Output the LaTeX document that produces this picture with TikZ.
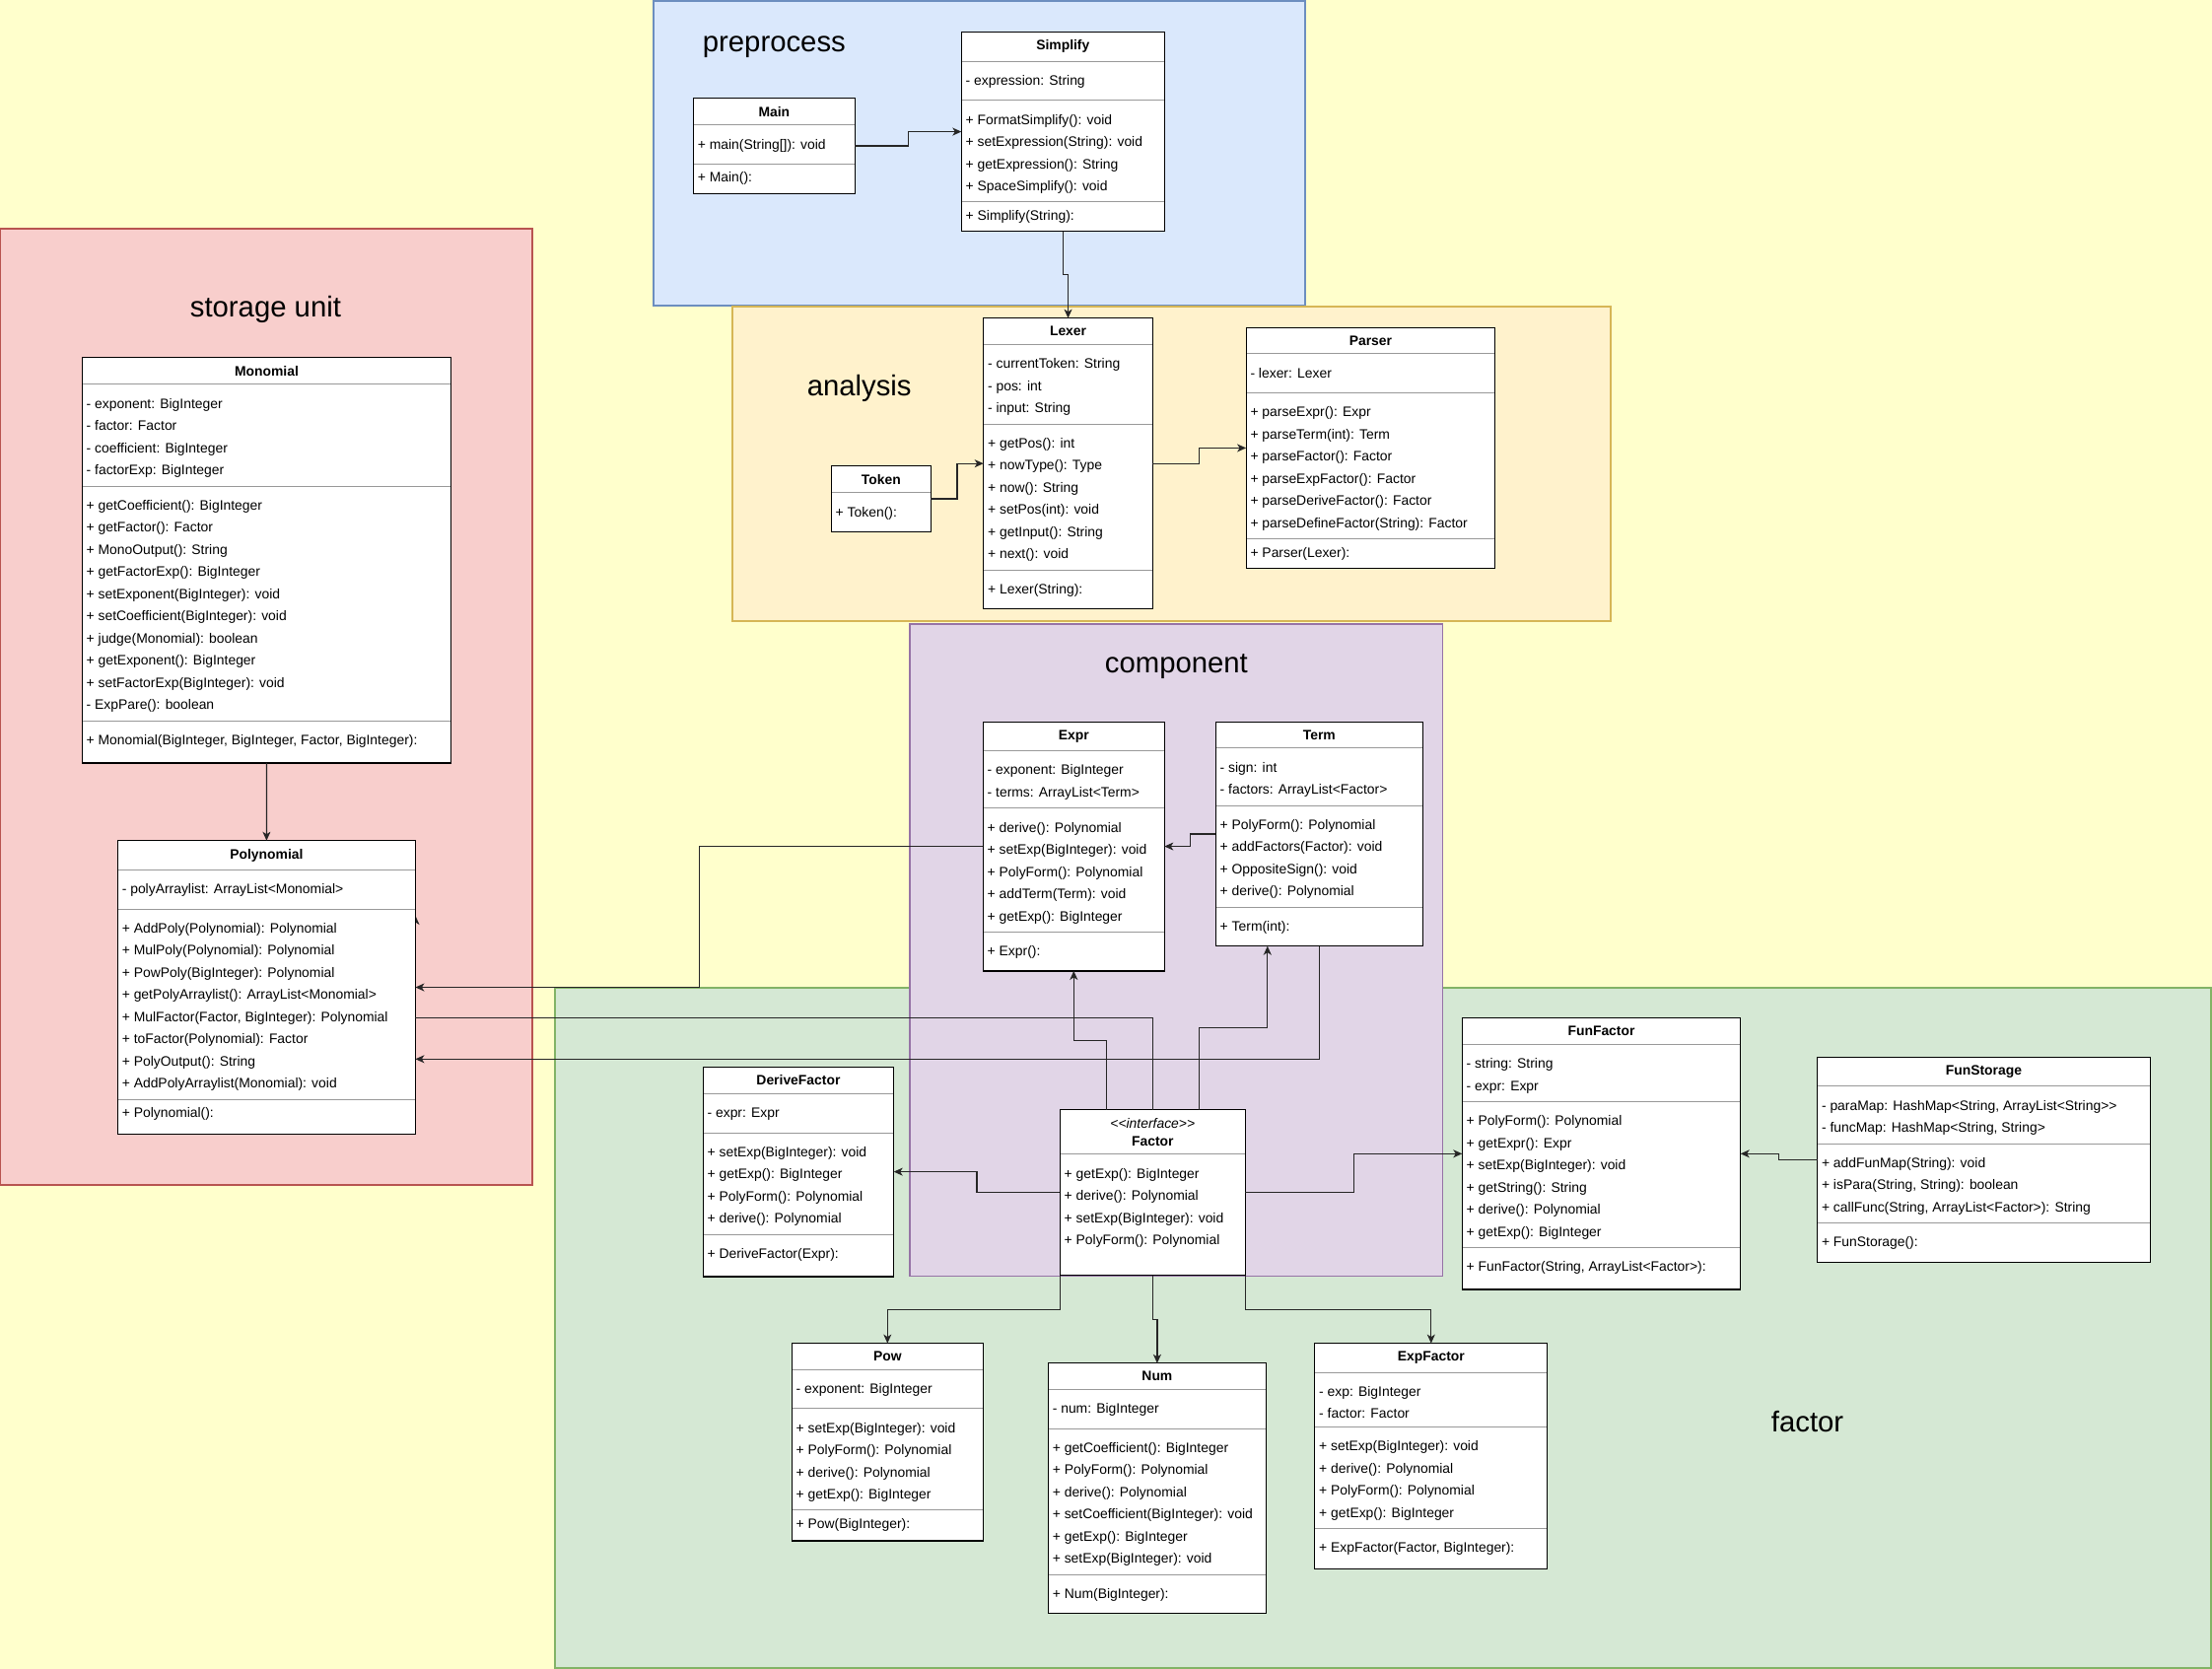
\documentclass[tikz,border=0pt]{standalone}
\usepackage{fontspec}
\setmainfont{Liberation Sans}[Ligatures=TeXOff]
\usetikzlibrary{arrows.meta,shapes.multipart,calc}
\definecolor{canvas}{HTML}{FFFFCC}
\definecolor{bluefill}{HTML}{DAE8FC}\definecolor{blueline}{HTML}{6C8EBF}
\definecolor{yellowfill}{HTML}{FFF2CC}\definecolor{yellowline}{HTML}{D6B656}
\definecolor{redfill}{HTML}{F8CECC}\definecolor{redline}{HTML}{B85450}
\definecolor{purplefill}{HTML}{E1D5E7}\definecolor{purpleline}{HTML}{9673A6}
\definecolor{greenfill}{HTML}{D5E8D4}\definecolor{greenline}{HTML}{82B366}

\begin{document}
\begin{tikzpicture}[x=1pt, y=-1pt,
		umlclass/.style={rectangle split, rectangle split parts=4, anchor=north west,
			rectangle split part align={center,left,left,left}, align=left,
			draw=black!40, line width=1pt, fill=white, inner xsep=4.4pt, inner ysep=8pt, outer sep=0pt,
			font=\fontsize{13.9}{22.5}\selectfont},
		outline/.style={line width=1.2pt},
		region/.style={line width=1.2pt},
		title/.style={anchor=base west, inner sep=0pt, font=\fontsize{29.3}{35}\selectfont},
		conn/.style={draw=black!85, line width=1.2pt},
		arr/.style={conn, -{Stealth[length=9pt, width=8pt, inset=2.5pt]}},
		hvh/.style={to path={-| ($(\tikztostart)!.5!(\tikztotarget)$) |- (\tikztotarget)}},
		vhv/.style={to path={|- ($(\tikztostart)!.5!(\tikztotarget)$) -| (\tikztotarget)}}]
	\fill[canvas] (0,0) rectangle (2244,1693);
	\useasboundingbox (0,0) rectangle (2244,1693);

	% packages
	\draw[region, fill=redfill, draw=redline] (0.6,232) rectangle (540,1202);
	\draw[region, fill=bluefill, draw=blueline] (663,1) rectangle (1324,310);
	\draw[region, fill=yellowfill, draw=yellowline] (743,311) rectangle (1634,630);
	\draw[region, fill=greenfill, draw=greenline] (563,1002) rectangle (2243,1692);
	\draw[region, fill=purplefill, draw=purpleline] (923,633) rectangle (1463.5,1294.5);

	\node[title] (tPre) at (712.7,52.7) {preprocess};
	\node[title] (tAna) at (818.6,402) {analysis};
	\node[title] (tSto) at (192.7,321.7) {storage unit};
	\node[title] (tCom) at (1120.7,682.7) {component};
	\node[title] (tFac) at (1796.7,1452.3) {factor};

	\coordinate (tick) at (421.5,936);
	\draw[arr] (tick) -- ++(0,-7);

	% preprocess
	\node[umlclass, rectangle split parts=3, minimum width=164pt] (Main) at (703.4,99.7)
		{\textbf{Main}
		\nodepart{two}\strut+ main(String[]): void
		\nodepart{three}+ Main():};
	\node[umlclass, minimum width=206pt] (Simplify) at (975.3,32.3)
		{\textbf{Simplify}
		\nodepart{two}\strut- expression: String
		\nodepart{three}\strut+ FormatSimplify(): void\\
		+ setExpression(String): void\\
		+ getExpression(): String\\
		+ SpaceSimplify(): void
		\nodepart{four}+ Simplify(String):};

	% analysis
	\node[umlclass, minimum width=171.7pt] (Lexer) at (997.7,322.7)
		{\textbf{Lexer}
		\nodepart{two}\strut- currentToken: String\\
		- pos: int\\
		- input: String
		\nodepart{three}\strut+ getPos(): int\\
		+ nowType(): Type\\
		+ now(): String\\
		+ setPos(int): void\\
		+ getInput(): String\\
		+ next(): void
		\nodepart{four}\strut+ Lexer(String):};
	\node[umlclass, rectangle split parts=2, minimum width=101pt] (Token) at (843.3,472.7)
		{\textbf{Token}
		\nodepart{two}\strut+ Token():};
	\node[umlclass, minimum width=252.6pt] (Parser) at (1264.1,332.3)
		{\textbf{Parser}
		\nodepart{two}\strut- lexer: Lexer
		\nodepart{three}\strut+ parseExpr(): Expr\\
		+ parseTerm(int): Term\\
		+ parseFactor(): Factor\\
		+ parseExpFactor(): Factor\\
		+ parseDeriveFactor(): Factor\\
		+ parseDefineFactor(String): Factor
		\nodepart{four}+ Parser(Lexer):};

	% storage unit
	\node[umlclass, minimum width=374.4pt] (Monomial) at (83.3,362.7)
		{\textbf{Monomial}
		\nodepart{two}\strut- exponent: BigInteger\\
		- factor: Factor\\
		- coefficient: BigInteger\\
		- factorExp: BigInteger
		\nodepart{three}\strut+ getCoefficient(): BigInteger\\
		+ getFactor(): Factor\\
		+ MonoOutput(): String\\
		+ getFactorExp(): BigInteger\\
		+ setExponent(BigInteger): void\\
		+ setCoefficient(BigInteger): void\\
		+ judge(Monomial): boolean\\
		+ getExponent(): BigInteger\\
		+ setFactorExp(BigInteger): void\\
		- ExpPare(): boolean
		\nodepart{four}\strut+ Monomial(BigInteger, BigInteger, Factor, BigInteger):\rule[-10pt]{0pt}{0pt}};
	\node[umlclass, minimum width=302pt] (Polynomial) at (119.4,852.7)
		{\textbf{Polynomial}
		\nodepart{two}\strut- polyArraylist: ArrayList<Monomial>
		\nodepart{three}\strut+ AddPoly(Polynomial): Polynomial\\
		+ MulPoly(Polynomial): Polynomial\\
		+ PowPoly(BigInteger): Polynomial\\
		+ getPolyArraylist(): ArrayList<Monomial>\\
		+ MulFactor(Factor, BigInteger): Polynomial\\
		+ toFactor(Polynomial): Factor\\
		+ PolyOutput(): String\\
		+ AddPolyArraylist(Monomial): void
		\nodepart{four}+ Polynomial():\rule[-8pt]{0pt}{0pt}};

	% component
	\node[umlclass, minimum width=184pt] (Expr) at (997.3,732.2)
		{\textbf{Expr}
		\nodepart{two}\strut- exponent: BigInteger\\
		- terms: ArrayList<Term>
		\nodepart{three}\strut+ derive(): Polynomial\\
		+ setExp(BigInteger): void\\
		+ PolyForm(): Polynomial\\
		+ addTerm(Term): void\\
		+ getExp(): BigInteger
		\nodepart{four}\strut+ Expr():};
	\node[umlclass, minimum width=210pt] (Term) at (1233.3,732.2)
		{\textbf{Term}
		\nodepart{two}\strut- sign: int\\
		- factors: ArrayList<Factor>
		\nodepart{three}\strut+ PolyForm(): Polynomial\\
		+ addFactors(Factor): void\\
		+ OppositeSign(): void\\
		+ derive(): Polynomial
		\nodepart{four}\strut+ Term(int):};
	\node[umlclass, rectangle split parts=2, minimum width=188pt] (Factor) at (1075.3,1125.7)
		{\textit{<<interface>>}\\[-4.5pt]\hspace*{\fill}\textbf{Factor}\hspace*{\fill}
		\nodepart{two}\strut+ getExp(): BigInteger\\
		+ derive(): Polynomial\\
		+ setExp(BigInteger): void\\
		+ PolyForm(): Polynomial\\
		\mbox{}};

	% factor
	\node[umlclass, minimum width=193.5pt] (DeriveFactor) at (713.2,1082.3)
		{\textbf{DeriveFactor}
		\nodepart{two}\strut- expr: Expr
		\nodepart{three}\strut+ setExp(BigInteger): void\\
		+ getExp(): BigInteger\\
		+ PolyForm(): Polynomial\\
		+ derive(): Polynomial
		\nodepart{four}\strut+ DeriveFactor(Expr):\rule[-10pt]{0pt}{0pt}};
	\node[umlclass, minimum width=282.4pt] (FunFactor) at (1483.3,1032.7)
		{\textbf{FunFactor}
		\nodepart{two}\strut- string: String\\
		- expr: Expr
		\nodepart{three}\strut+ PolyForm(): Polynomial\\
		+ getExpr(): Expr\\
		+ setExp(BigInteger): void\\
		+ getString(): String\\
		+ derive(): Polynomial\\
		+ getExp(): BigInteger
		\nodepart{four}\strut+ FunFactor(String, ArrayList<Factor>):\rule[-9.5pt]{0pt}{0pt}};
	\node[umlclass, minimum width=337.7pt] (FunStorage) at (1843.6,1072.3)
		{\textbf{FunStorage}
		\nodepart{two}\strut- paraMap: HashMap<String, ArrayList<String>>\\
		- funcMap: HashMap<String, String>
		\nodepart{three}\strut+ addFunMap(String): void\\
		+ isPara(String, String): boolean\\
		+ callFunc(String, ArrayList<Factor>): String
		\nodepart{four}\strut+ FunStorage():};
	\node[umlclass, minimum width=194pt] (Pow) at (803.3,1362.6)
		{\textbf{Pow}
		\nodepart{two}\strut- exponent: BigInteger
		\nodepart{three}\strut+ setExp(BigInteger): void\\
		+ PolyForm(): Polynomial\\
		+ derive(): Polynomial\\
		+ getExp(): BigInteger
		\nodepart{four}+ Pow(BigInteger):\rule[-4pt]{0pt}{0pt}};
	\node[umlclass, minimum width=221pt] (Num) at (1063.4,1382.8)
		{\textbf{Num}
		\nodepart{two}\strut- num: BigInteger
		\nodepart{three}\strut+ getCoefficient(): BigInteger\\
		+ PolyForm(): Polynomial\\
		+ derive(): Polynomial\\
		+ setCoefficient(BigInteger): void\\
		+ getExp(): BigInteger\\
		+ setExp(BigInteger): void
		\nodepart{four}\strut+ Num(BigInteger):};
	\node[umlclass, minimum width=236pt] (ExpFactor) at (1333.8,1362.6)
		{\textbf{ExpFactor}
		\nodepart{two}\strut- exp: BigInteger\\
		- factor: Factor
		\nodepart{three}\strut+ setExp(BigInteger): void\\
		+ derive(): Polynomial\\
		+ PolyForm(): Polynomial\\
		+ getExp(): BigInteger
		\nodepart{four}\strut+ ExpFactor(Factor, BigInteger):\rule[-8pt]{0pt}{0pt}};

	% black class borders over the grey splits
	\foreach \c in {Main,Simplify,Lexer,Token,Parser,Monomial,Polynomial,Expr,Term,Factor,DeriveFactor,FunFactor,FunStorage,Pow,Num,ExpFactor}
		\draw[outline] (\c.north west) rectangle (\c.south east);

	\coordinate (toExpr) at ($(Factor.north west)!.25!(Factor.north east)$);
	\coordinate (toTerm) at ($(Factor.north west)!.75!(Factor.north east)$);
	\coordinate (termIn) at ($(Term.south west)!.25!(Term.south east)$);

	\path (Main.east) edge[arr, hvh] (Simplify.west);
	\path (Simplify.south) edge[arr, vhv] (Lexer.north);
	\path (Token.east) edge[arr, hvh] (Lexer.west);
	\path (Lexer.east) edge[arr, hvh] (Parser.west);
	\path (Monomial.south) edge[arr] (Polynomial.north);
	\path (Expr.west) edge[arr, hvh] (Polynomial.east);
	\path (Term.west) edge[arr, hvh] (Expr.east);
	\draw[arr] (Term.south) |- (Polynomial.east |- 0,1074.3);
	\draw[conn] (Factor.north) |- (Polynomial.east |- 0,1032.3);
	\path (toExpr) edge[arr, vhv] (Expr.south);
	\path (toTerm) edge[arr, vhv] (termIn);
	\path (Factor.west) edge[arr, hvh] (DeriveFactor.east);
	\path (Factor.east) edge[arr, hvh] (FunFactor.west);
	\path (FunStorage.west) edge[arr, hvh] (FunFactor.east);
	\path (Factor.south west) edge[arr, vhv] (Pow.north);
	\path (Factor.south) edge[arr, vhv] (Num.north);
	\path (Factor.south east) edge[arr, vhv] (ExpFactor.north);
\end{tikzpicture}
\end{document}
